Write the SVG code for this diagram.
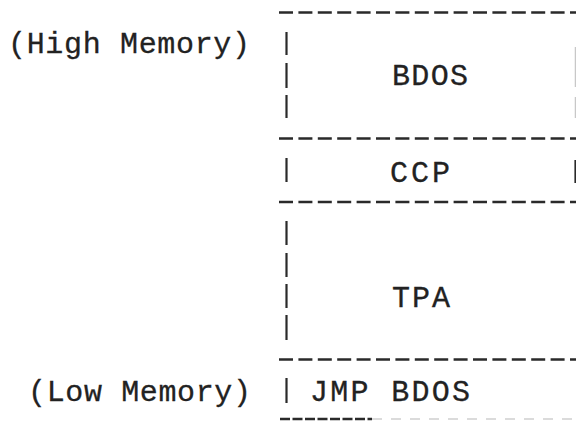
<svg xmlns="http://www.w3.org/2000/svg" width="576" height="422" viewBox="0 0 576 422">
  <style>
    .t { font-family: "Liberation Mono", "Courier New", monospace; font-size: 30px; fill: #222; stroke: #222; stroke-width: 0.3; }
    .h { stroke: #2a2a2a; stroke-width: 2.4; stroke-dasharray: 14 5.4; fill: none; }
    .v { stroke: #2a2a2a; stroke-width: 2.2; fill: none; }
    .vf { stroke: #c8c8c8; stroke-width: 1.5; fill: none; }
  </style>
  <rect width="576" height="422" fill="#fff"/>

  <g id="label-high">
    <text class="t" x="8" y="53" textLength="242" lengthAdjust="spacing">(High Memory)</text>
  </g>
  <g id="label-low">
    <text class="t" x="28" y="401" textLength="223" lengthAdjust="spacing">(Low Memory)</text>
  </g>

  <g id="bdos">
    <line class="h" x1="279" y1="12.5" x2="576" y2="12.5"/>
    <line class="v" x1="286.5" y1="32" x2="286.5" y2="55"/>
    <line class="v" x1="286.5" y1="63" x2="286.5" y2="88"/>
    <line class="v" x1="286.5" y1="95" x2="286.5" y2="118"/>
    <line class="vf" x1="575.5" y1="47" x2="575.5" y2="87"/>
    <line class="vf" x1="575.5" y1="97" x2="575.5" y2="118"/>
    <text class="t" x="392" y="85" textLength="76" lengthAdjust="spacing">BDOS</text>
  </g>

  <g id="ccp">
    <line class="h" x1="279" y1="138.5" x2="576" y2="138.5"/>
    <line class="v" x1="286.5" y1="158" x2="286.5" y2="182"/>
    <line class="v" x1="575.5" y1="160" x2="575.5" y2="183"/>
    <text class="t" x="390" y="182" textLength="60" lengthAdjust="spacing">CCP</text>
  </g>

  <g id="tpa">
    <line class="h" x1="279" y1="202" x2="576" y2="202"/>
    <line class="v" x1="286.5" y1="221" x2="286.5" y2="245"/>
    <line class="v" x1="286.5" y1="253" x2="286.5" y2="277"/>
    <line class="v" x1="286.5" y1="284" x2="286.5" y2="308"/>
    <line class="v" x1="286.5" y1="315" x2="286.5" y2="340"/>
    <text class="t" x="392" y="307" textLength="58" lengthAdjust="spacing">TPA</text>
  </g>

  <g id="jmp">
    <line class="h" x1="279" y1="359.5" x2="576" y2="359.5"/>
    <line class="v" x1="286.5" y1="378" x2="286.5" y2="403"/>
    <text class="t" x="310" y="401" textLength="160" lengthAdjust="spacing">JMP BDOS</text>
    <line x1="280" y1="419" x2="372" y2="419" stroke="#2a2a2a" stroke-width="2.4" stroke-dasharray="10 2.5"/>
    <line x1="372" y1="419" x2="576" y2="419" stroke="#d0d0d0" stroke-width="1.5" stroke-dasharray="10 9"/>
  </g>
</svg>
